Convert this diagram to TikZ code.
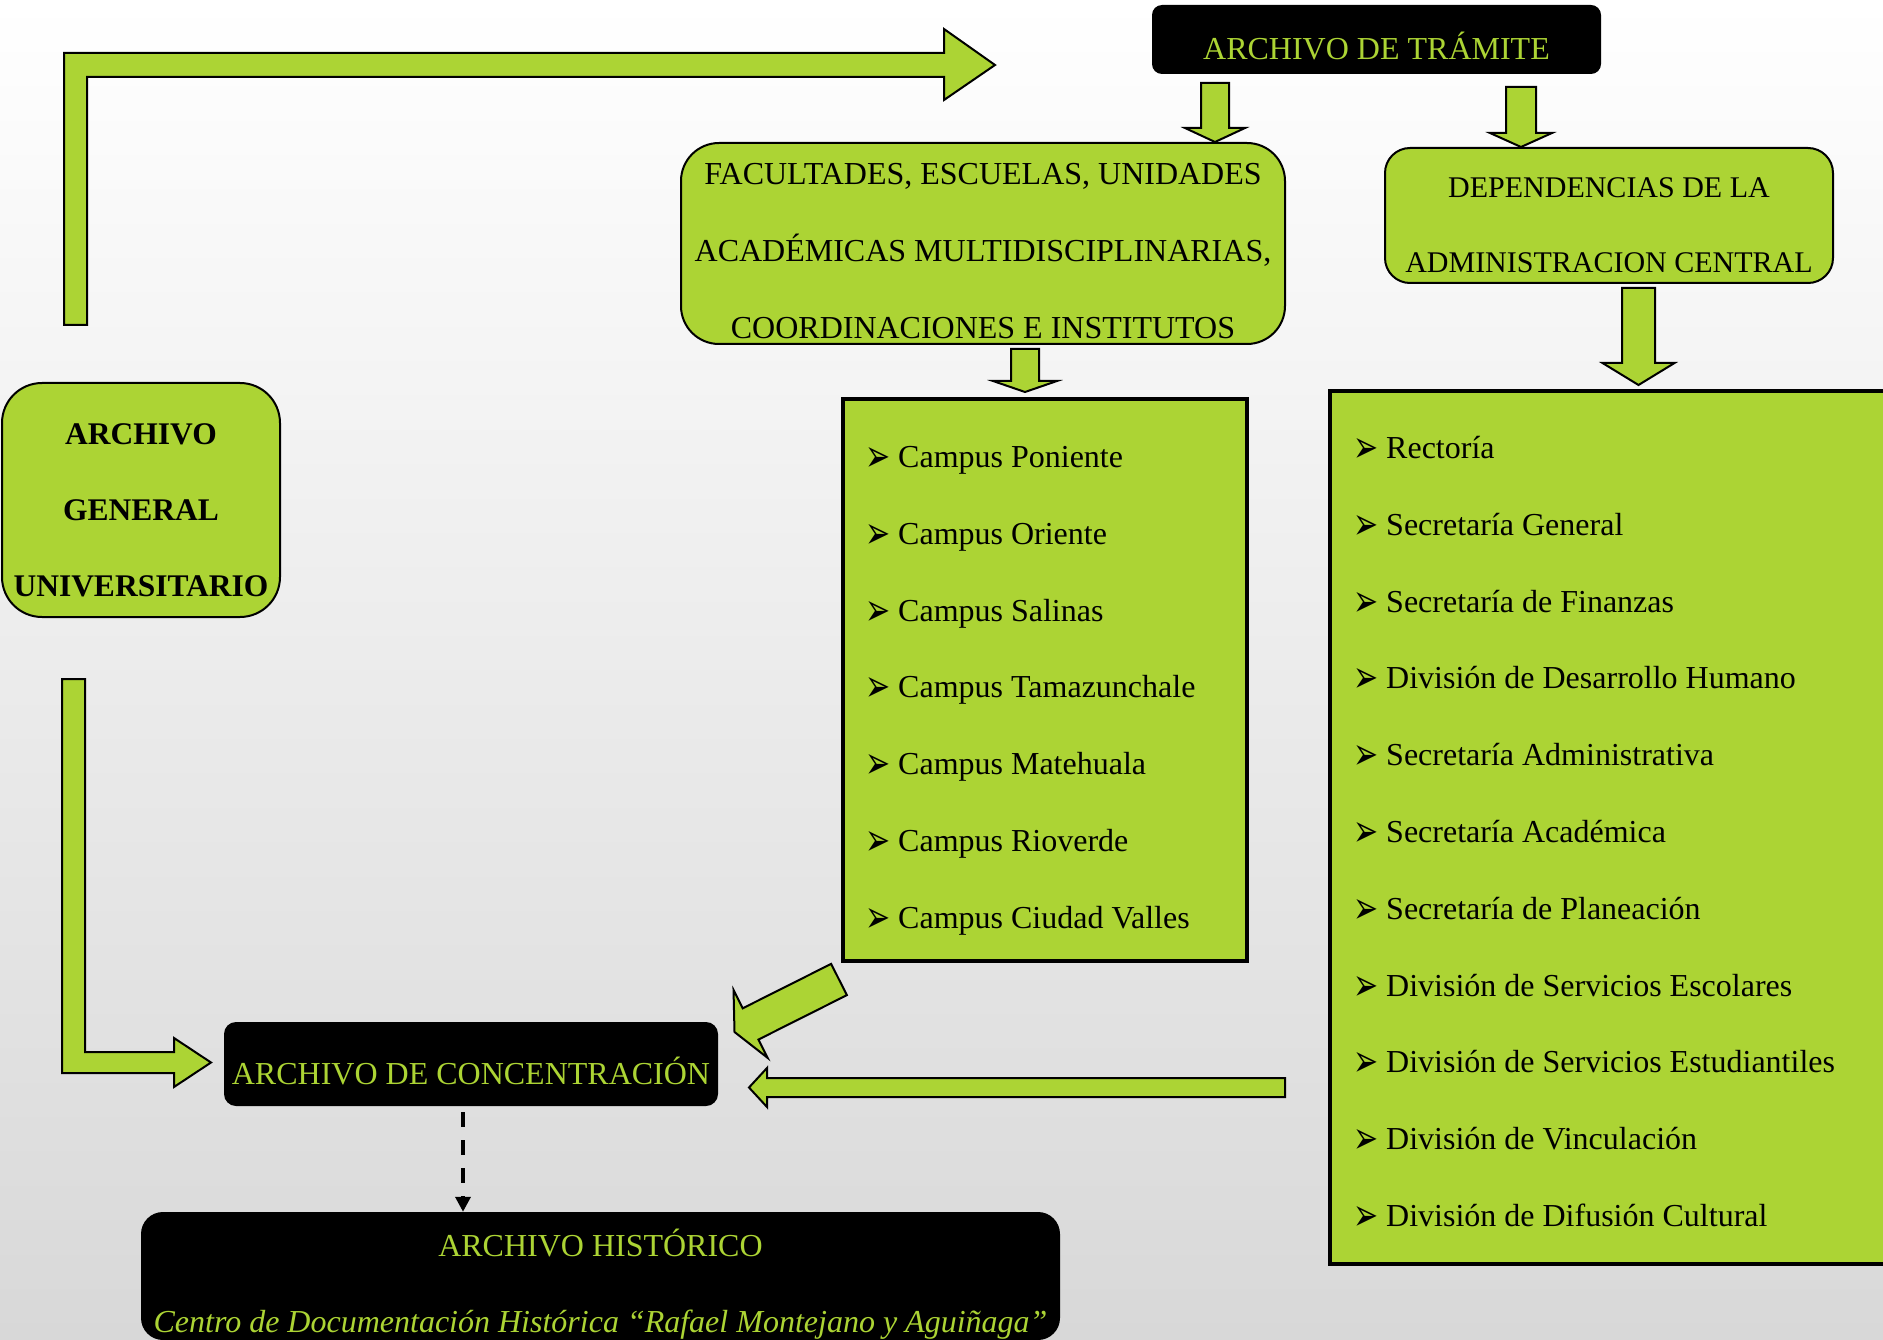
\documentclass[tikz,border=0pt]{standalone}
\usepackage{graphicx}
\usepackage{fontspec}
\setmainfont{Liberation Serif}
\newfontfamily\symfont{DejaVu Sans}
\usepackage{tikz}
\usetikzlibrary{arrows.meta,positioning,calc}

\definecolor{leafgreen}{RGB}{172,212,52}
\definecolor{bggray}{RGB}{216,216,216}

% bullet of the lists
\newcommand{\bul}{\makebox[33pt][l]{\raisebox{-4pt}{\symfont\fontsize{30}{30}\selectfont\scalebox{1}[1.5]{➢}}}}

% straight block arrow: tail, tip, half shaft, half head, head length
\newcommand{\blockarrow}[5]{%
  \coordinate (ba) at ($(#2)!#5!(#1)$);
  \filldraw[blockarr] ($(#1)!#3!90:(#2)$) -- ($(ba)!#3!90:(#2)$) -- ($(ba)!#4!90:(#2)$) -- (#2)
    -- ($(ba)!#4!-90:(#2)$) -- ($(ba)!#3!-90:(#2)$) -- ($(#1)!#3!-90:(#2)$) -- cycle;
}

\begin{document}
\begin{tikzpicture}[x=1pt,y=-1pt,
  every node/.style={font=\fontsize{32}{38}\selectfont},
  greenbox/.style={draw, line width=2pt, fill=leafgreen, align=center, inner sep=0pt},
  blackbox/.style={fill=black, text=leafgreen, align=center, inner sep=0pt},
  listbox/.style={draw, line width=3.5pt, fill=leafgreen, inner sep=0pt},
  blockarr/.style={draw=black, line width=2pt, fill=leafgreen},
  item/.style={anchor=base west, inner sep=0pt}]
  \useasboundingbox (0,0) rectangle (1883,1340);
  \shade[top color=white, bottom color=bggray] (0,0) rectangle (1883,1340);

  % boxes
  \node[blackbox, rounded corners=10pt, minimum width=449pt, minimum height=69pt,
        text height=40pt, text depth=0pt] (tram) at (1376.5,39.5) {ARCHIVO DE TRÁMITE};
  \node[greenbox, rounded corners=38pt, minimum width=604pt, minimum height=201pt,
        font=\fontsize{32}{77}\selectfont] (fac) at (983,243.5)
    {\rule{0pt}{37pt}FACULTADES, ESCUELAS, UNIDADES\\ACADÉMICAS MULTIDISCIPLINARIAS,\\COORDINACIONES E INSTITUTOS};
  \node[greenbox, rounded corners=25pt, minimum width=448pt, minimum height=135pt,
        font=\fontsize{30}{75}\selectfont] (dep) at (1609,215.5)
    {\rule{0pt}{39pt}DEPENDENCIAS DE LA\\ADMINISTRACION CENTRAL};
  \node[greenbox, rounded corners=40pt, minimum width=278pt, minimum height=234pt,
        font=\bfseries\fontsize{31.5}{76}\selectfont] (agu) at (141,500)
    {\rule{0pt}{41pt}ARCHIVO\\GENERAL\\UNIVERSITARIO};
  \node[listbox, minimum width=404pt, minimum height=562pt] (campus) at (1045,680) {};
  \node[listbox, minimum width=570pt, minimum height=873pt] (deps) at (1615,827.5) {};
  \node[blackbox, rounded corners=12pt, minimum width=494pt, minimum height=84pt,
        text height=40pt, text depth=0pt] (conc) at (471,1064) {ARCHIVO DE CONCENTRACIÓN};
  \node[blackbox, rounded corners=22pt, minimum width=919pt, minimum height=128pt,
        font=\fontsize{32}{76.5}\selectfont] (hist) at (600.5,1276)
    {\rule{0pt}{44pt}ARCHIVO HISTÓRICO\\\textit{Centro de Documentación Histórica “Rafael Montejano y Aguiñaga”}};

  % lists
  \foreach \t [count=\i] in {Campus Poniente, Campus Oriente, Campus Salinas,
      Campus Tamazunchale, Campus Matehuala, Campus Rioverde, Campus Ciudad Valles}
    \node[item] (c\i) at (865,{467.5+76.8*(\i-1)}) {\bul\t};
  \foreach \t [count=\i] in {Rectoría, Secretaría General, Secretaría de Finanzas,
      División de Desarrollo Humano, Secretaría Administrativa, Secretaría Académica,
      Secretaría de Planeación, División de Servicios Escolares,
      División de Servicios Estudiantiles, División de Vinculación,
      División de Difusión Cultural}
    \node[item] (d\i) at (1353,{458.5+76.8*(\i-1)}) {\bul\t};

  % block arrows
  \coordinate (a1) at (1215,83);
  \coordinate (a1t) at (a1 |- fac.north);
  \blockarrow{a1}{a1t}{14pt}{30pt}{14pt}
  \coordinate (a2) at (1521,87);
  \coordinate (a2t) at (a2 |- dep.north);
  \blockarrow{a2}{a2t}{15pt}{31pt}{14pt}
  \coordinate (a3) at (1638.5,288);
  \coordinate (a3t) at (1638.5,385);
  \blockarrow{a3}{a3t}{16.5pt}{36pt}{22pt}
  \coordinate (a4) at (1025,349);
  \coordinate (a4t) at (1025,392);
  \blockarrow{a4}{a4t}{14pt}{32pt}{11pt}
  \coordinate (a5) at (839,979.5);
  \coordinate (a5t) at (734.5,1032);
  \blockarrow{a5}{a5t}{17.5pt}{38pt}{18pt}
  \coordinate (a6) at (1285,1087.5);
  \coordinate (a6t) at (749,1087.5);
  \blockarrow{a6}{a6t}{9.5pt}{19.5pt}{18pt}

  % elbow arrows
  \filldraw[blockarr] (64,325) -- (64,53) -- (944,53) -- (944,29) -- (995,65)
    -- (944,100) -- (944,77) -- (87,77) -- (87,325) -- cycle;
  \filldraw[blockarr] (62,679) -- (62,1073) -- (174,1073) -- (174,1087) -- (211,1062.5)
    -- (174,1038) -- (174,1052) -- (85,1052) -- (85,679) -- cycle;

  % to the historical archive
  \coordinate (d0) at ([xshift=-8pt,yshift=-6pt]conc.south);
  \draw[line width=3.5pt, dash pattern=on 15pt off 13pt,
        -{Triangle[length=15pt,width=15pt]}] (d0) -- (d0 |- hist.north);
\end{tikzpicture}
\end{document}
